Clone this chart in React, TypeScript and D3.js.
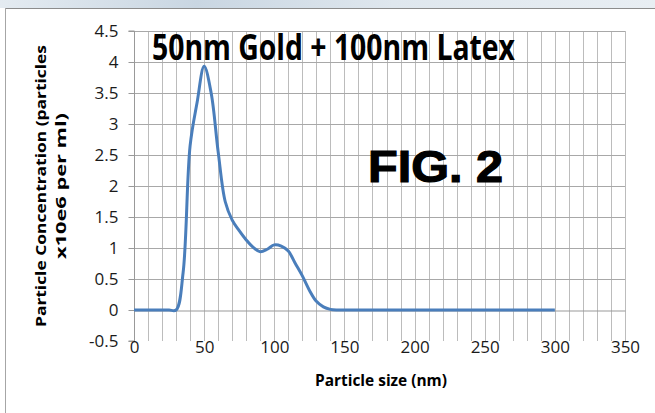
import React, { useEffect, useRef } from 'react';
import * as d3 from 'd3';

// particle size (nm) and concentration (x10e6 per ml)
const sizes = [0, 5, 10, 15, 20, 25, 30, 35, 40, 45, 50, 55, 60, 65, 70, 75, 80, 85, 90, 95, 100,
  105, 110, 115, 120, 125, 130, 135, 140, 145, 150, 200, 250, 300];
const conc = [0, 0, 0, 0, 0, 0, 0, 0.6, 2.65, 3.35, 3.93, 3.5, 2.55, 1.75, 1.45, 1.28, 1.13, 1.01, 0.94, 0.98, 1.05,
  1.03, 0.95, 0.75, 0.55, 0.32, 0.14, 0.05, 0.01, 0, 0, 0, 0, 0];

const yTicks = [-0.5, 0, 0.5, 1, 1.5, 2, 2.5, 3, 3.5, 4, 4.5];
const xTicks = [0, 50, 100, 150, 200, 250, 300, 350];

const W = 655;
const H = 413;

const App = () => {
  const ref = useRef<SVGSVGElement>(null);

  useEffect(() => {
    const svg = d3.select(ref.current);
    svg.selectAll('*').remove();

    const x = d3.scaleLinear().domain([0, 350]).range([134, 625]);
    const y = d3.scaleLinear().domain([-0.5, 4.5]).range([341, 31]);

    // blurred strip above the chart frame
    const grad = svg.append('defs').append('linearGradient').attr('id', 'strip');
    grad.append('stop').attr('offset', '0%').attr('stop-color', '#e4ebf1');
    grad.append('stop').attr('offset', '30%').attr('stop-color', '#c9d6e2');
    grad.append('stop').attr('offset', '60%').attr('stop-color', '#dfe7ee');
    grad.append('stop').attr('offset', '100%').attr('stop-color', '#e8eef3');
    svg.append('rect').attr('width', W).attr('height', H).attr('fill', '#fff');
    svg.append('rect').attr('width', W).attr('height', 8).attr('fill', 'url(#strip)');
    svg.append('line').attr('x1', 5).attr('x2', W).attr('y1', 8.5).attr('y2', 8.5).attr('stroke', '#8c8c8c');
    svg.append('line').attr('x1', 5.5).attr('x2', 5.5).attr('y1', 8).attr('y2', H).attr('stroke', '#a6a6a6');

    // grid
    const grid = svg.append('g').attr('stroke', '#bcbcbc').attr('stroke-width', 1);
    grid.selectAll('.v')
      .data(d3.range(10, 351, 10))
      .enter().append('line')
      .attr('x1', d => Math.round(x(d)) + 0.5).attr('x2', d => Math.round(x(d)) + 0.5)
      .attr('y1', y(4.5)).attr('y2', y(-0.5));
    grid.selectAll('.h')
      .data(yTicks.filter(d => d > 0))
      .enter().append('line')
      .attr('x1', x(0)).attr('x2', x(350))
      .attr('y1', d => Math.round(y(d)) + 0.5).attr('y2', d => Math.round(y(d)) + 0.5)
      .attr('stroke', '#a8a8a8');

    // axes
    const yAxis = d3.axisLeft(y).tickValues(yTicks).tickSize(6).tickPadding(10).tickFormat(d => String(d));
    const gy = svg.append('g').attr('transform', `translate(${Math.round(x(0)) + 0.5},0)`).call(yAxis);
    gy.select('.domain').attr('stroke', '#999').attr('d', `M-6,${y(4.5)}H0V${y(-0.5)}H-6`);
    gy.selectAll('line').attr('stroke', '#999');
    gy.selectAll('text').attr('font-family', 'Open Sans, sans-serif').attr('font-size', 17).attr('fill', '#1a1a1a');

    const xAxis = d3.axisBottom(x).tickValues(xTicks).tickSize(0).tickPadding(0).tickFormat(d => String(d));
    const gx = svg.append('g').attr('transform', `translate(0,${Math.round(y(0)) + 0.5})`).call(xAxis);
    gx.select('.domain').attr('stroke', '#999');
    gx.selectAll('text').attr('font-family', 'Open Sans, sans-serif').attr('font-size', 17).attr('fill', '#1a1a1a')
      .attr('dy', 0).attr('y', 42);

    // series
    const pts = sizes.map((s, i) => [s, conc[i]] as [number, number]);
    const line = d3.line<[number, number]>()
      .x(d => x(d[0]))
      .y(d => y(d[1]))
      .curve(d3.curveCatmullRom.alpha(0.5));
    svg.append('path')
      .attr('d', line(pts))
      .attr('fill', 'none')
      .attr('stroke', '#4a7ebb')
      .attr('stroke-width', 3)
      .attr('stroke-linejoin', 'round');

    // titles
    svg.append('text')
      .attr('x', 152).attr('y', 60)
      .attr('font-family', 'Open Sans, sans-serif').attr('font-weight', 'bold').attr('font-size', 36)
      .attr('textLength', 363).attr('lengthAdjust', 'spacingAndGlyphs')
      .text('50nm Gold + 100nm Latex');
    svg.append('text')
      .attr('x', 368).attr('y', 182)
      .attr('font-family', 'Liberation Sans, Arial, sans-serif').attr('font-weight', 'bold').attr('font-size', 45)
      .attr('stroke', '#000').attr('stroke-width', 1.2)
      .attr('textLength', 135).attr('lengthAdjust', 'spacingAndGlyphs')
      .text('FIG. 2');
    svg.append('text')
      .attr('x', 381).attr('y', 386).attr('text-anchor', 'middle')
      .attr('font-family', 'Open Sans, sans-serif').attr('font-weight', 'bold').attr('font-size', 16)
      .attr('textLength', 132).attr('lengthAdjust', 'spacingAndGlyphs')
      .text('Particle size (nm)');

    const yl = svg.append('g').attr('transform', 'translate(0,186) rotate(-90)')
      .attr('font-family', 'Open Sans, sans-serif').attr('font-weight', 'bold').attr('font-size', 15)
      .attr('text-anchor', 'middle');
    yl.append('text').attr('x', 0).attr('y', 46)
      .attr('textLength', 282).attr('lengthAdjust', 'spacingAndGlyphs')
      .text('Particle Concentration (particles');
    yl.append('text').attr('x', 0).attr('y', 66)
      .attr('textLength', 146).attr('lengthAdjust', 'spacingAndGlyphs')
      .text('x10e6 per ml)');
  }, []);

  return (
    <svg ref={ref} width={W} height={H} style={{ position: 'absolute', left: 0, top: 0 }}></svg>
  );
};

export default App;
